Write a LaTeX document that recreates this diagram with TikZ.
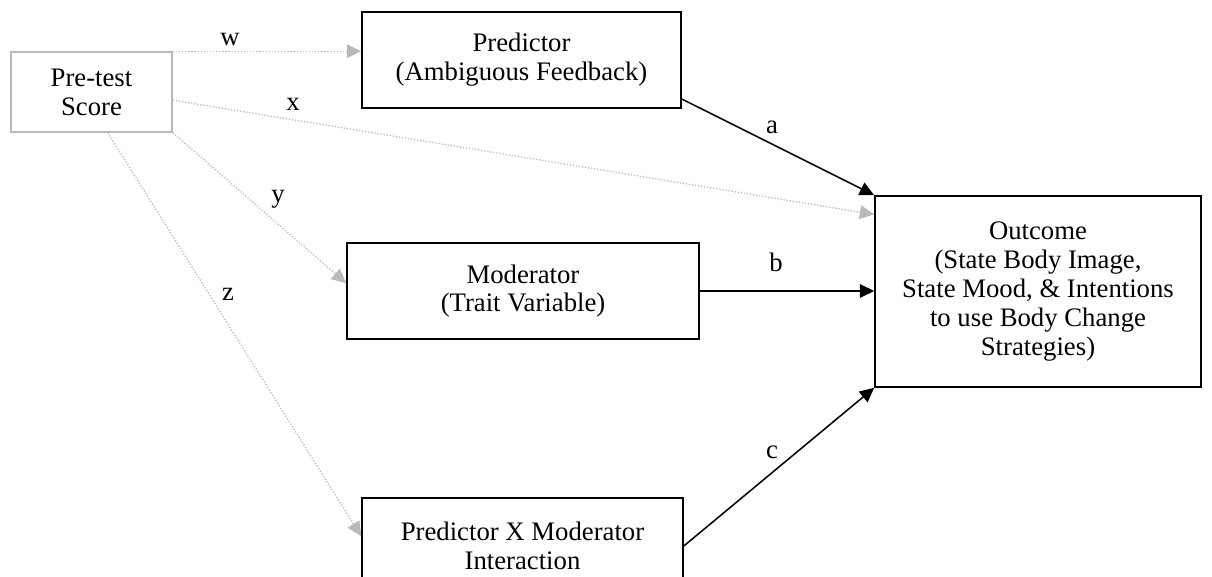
\documentclass[tikz,border=0pt]{standalone}
\usepackage{fontspec}
\setmainfont{Liberation Serif}
\usepackage{xcolor}
\usepackage{tikz}
\tikzset{>=latex}
\usetikzlibrary{
    positioning, % relative placement
    arrows.meta, % arrow tips
    calc % coordinate calculations
}
\definecolor{paleline}{RGB}{185,185,185}

\begin{document}
\begin{tikzpicture}[
    x=0.025cm, y=-0.025cm,
    font=\fontsize{19}{20.5}\selectfont,
    arrow/.style={
        -{Triangle[length=3.6mm, width=3.4mm]},
        line width=1.1pt,
        draw=black
    },
    dotarrow/.style={
        -{Triangle[length=3.6mm, width=3.4mm]},
        line width=0.9pt,
        draw=paleline,
        dash pattern=on 0.9pt off 1.3pt
    },
    varbox/.style={
        draw=black,
        line width=1.1pt,
        align=center,
        inner sep=2pt
    },
    pretestbox/.style={
        draw=paleline,
        line width=1.1pt,
        align=center,
        inner sep=2pt
    },
    lbl/.style={
        inner sep=0pt
    }
]
\useasboundingbox (0,0) rectangle (1212,577);

% Pre-test score
\node[pretestbox, minimum width=4.025cm, minimum height=2cm] (pretest) at (91.5,92)
{Pre-test\\Score};

% Predictor, moderator, interaction
\node[varbox, minimum width=7.975cm, minimum height=2.4cm] (predictor) at (521.5,60)
{Predictor\\(Ambiguous Feedback)};

\node[varbox, minimum width=8.8cm, minimum height=2.4cm] (moderator) at (523,291)
{Moderator\\(Trait Variable)};

\node[varbox, minimum width=8.025cm, minimum height=2.4cm] (interaction) at (522.5,546)
{Predictor X Moderator\\Interaction};

% Outcome
\node[varbox, minimum width=8.15cm, minimum height=4.775cm] (outcome) at (1038,291.5)
{Outcome\\(State Body Image,\\State Mood, \& Intentions\\to use Body Change\\Strategies)};

% Paths from pre-test
\draw[dotarrow] (pretest.north east) -- (pretest.north east -| predictor.west);
\draw[dotarrow] ($(pretest.north east)!0.6!(pretest.south east)$)
-- ($(outcome.north west)!0.1!(outcome.south west)$);
\draw[dotarrow] (pretest.south east)
-- ($(moderator.north west)!0.42!(moderator.south west)$);
\draw[dotarrow] ($(pretest.south west)!0.6!(pretest.south east)$)
-- ($(interaction.north west)!0.4!(interaction.south west)$);

% Paths into outcome
\draw[arrow] ($(predictor.north east)!0.9!(predictor.south east)$) -- (outcome.north west);
\draw[arrow] (moderator.east) -- (moderator.east -| outcome.west);
\draw[arrow] (interaction.east) -- (outcome.south west);

% Path labels
\node[lbl] (lblw) at (230,40) {w};
\node[lbl] (lblx) at (293,104) {x};
\node[lbl] (lbly) at (278,199) {y};
\node[lbl] (lblz) at (228,294) {z};
\node[lbl] (lbla) at (772,127) {a};
\node[lbl] (lblb) at (776,262) {b};
\node[lbl] (lblc) at (772,452) {c};

\end{tikzpicture}
\end{document}
